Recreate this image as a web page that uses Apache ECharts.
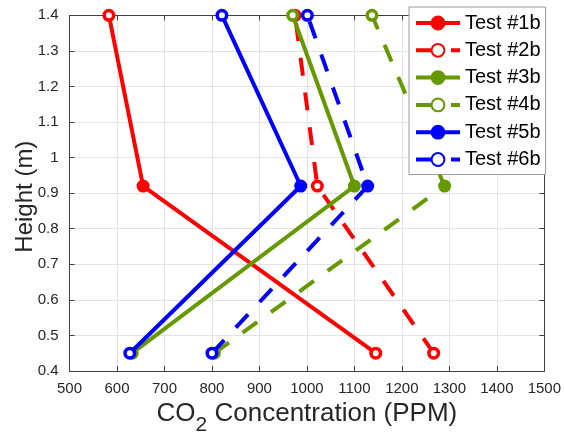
<!DOCTYPE html>
<html>
<head>
<meta charset="utf-8">
<script src="https://cdn.jsdelivr.net/npm/echarts@6/dist/echarts.min.js"></script>
<style>
  html, body { margin: 0; padding: 0; background: #fff; }
  #chart { width: 564px; height: 441px; }
</style>
</head>
<body>
<div id="chart"></div>
<script>
// Measurement heights (m)
const heights = [0.45, 0.92, 1.4];

// CO2 concentration (PPM) at each height, per test
const test1b = [1145, 655, 583];
const test2b = [1267, 1022, 975];
const test3b = [632, 1100, 970];
const test4b = [805, 1290, 1137];
const test5b = [627, 987, 821];
const test6b = [800, 1128, 1001];

const seriesNames = ['Test #1b', 'Test #2b', 'Test #3b', 'Test #4b', 'Test #5b', 'Test #6b'];
const seriesValues = [test1b, test2b, test3b, test4b, test5b, test6b];

// Axis ticks
const xTicks = [500, 600, 700, 800, 900, 1000, 1100, 1200, 1300, 1400, 1500];
const yTicks = [0.4, 0.5, 0.6, 0.7, 0.8, 0.9, 1, 1.1, 1.2, 1.3, 1.4];

const RED = '#ff0000', GREEN = '#669900', BLUE = '#0000ff';
const colors = [RED, RED, GREEN, GREEN, BLUE, BLUE];
const dashed = [false, true, false, true, false, true];
// middle marker filled except for test #2b
const midFilled = [true, false, true, true, true, true];

const AXIS_COLOR = '#404040';
const TEXT_COLOR = '#262626';
const FONT = 'Liberation Sans, Arial, sans-serif';

const series = seriesValues.map((vals, i) => {
  const c = colors[i];
  const data = vals.map((x, k) => {
    const filled = (k === 1) && midFilled[i];
    return {
      value: [x, heights[k]],
      itemStyle: { color: filled ? c : '#ffffff', borderColor: c, borderWidth: 3.5 }
    };
  });
  return {
    name: seriesNames[i],
    type: 'line',
    data: data,
    symbol: 'circle',
    symbolSize: 9.5,
    showAllSymbol: true,
    clip: false,
    lineStyle: { color: c, width: 4, type: dashed[i] ? [18, 17] : 'solid', cap: 'butt' },
    itemStyle: { color: dashed[i] ? '#ffffff' : c, borderColor: c, borderWidth: 3 },
    emphasis: { disabled: true },
    z: 2 + i * 0.01
  };
});

const chart = echarts.init(document.getElementById('chart'), null, { renderer: 'canvas' });

chart.setOption({
  backgroundColor: '#ffffff',
  animation: false,
  textStyle: { fontFamily: FONT },
  grid: { left: 69.5, right: 14.7, top: 15.3, bottom: 66.7, containLabel: false },
  legend: {
    orient: 'vertical',
    left: 409,
    top: 7,
    data: seriesNames,
    itemWidth: 44,
    itemHeight: 16,
    itemGap: 7.3,
    padding: [6, 5, 5, 5],
    backgroundColor: '#ffffff',
    borderColor: '#9a9a9a',
    borderWidth: 1,
    borderRadius: 0,
    selectedMode: false,
    lineStyle: { width: 4 },
    textStyle: { fontFamily: FONT, fontSize: 20, color: '#000000', lineHeight: 20 }
  },
  xAxis: [
    {
      type: 'value',
      position: 'bottom',
      min: xTicks[0],
      max: xTicks[xTicks.length - 1],
      interval: xTicks[1] - xTicks[0],
      name: '{n|CO}{s|2}{n| Concentration (PPM)}',
      nameLocation: 'middle',
      nameGap: 30,
      nameMoveOverlap: false,
      nameTextStyle: {
        rich: {
          n: { fontFamily: FONT, fontSize: 26, color: TEXT_COLOR, verticalAlign: 'top', lineHeight: 29 },
          s: { fontFamily: FONT, fontSize: 21, color: TEXT_COLOR, verticalAlign: 'top', lineHeight: 29, padding: [14, 0, 0, 0] }
        }
      },
      axisLine: { show: true, onZero: false, lineStyle: { color: AXIS_COLOR, width: 1 } },
      axisTick: { show: true, inside: true, length: 5, lineStyle: { color: AXIS_COLOR } },
      axisLabel: { fontFamily: FONT, fontSize: 15, color: TEXT_COLOR, margin: 10, formatter: (v) => String(v) },
      splitLine: { show: true, lineStyle: { color: '#e3e3e3', width: 1 } }
    },
    {
      type: 'value',
      position: 'top',
      min: xTicks[0],
      max: xTicks[xTicks.length - 1],
      interval: xTicks[1] - xTicks[0],
      axisLine: { show: true, onZero: false, lineStyle: { color: AXIS_COLOR, width: 1 } },
      axisTick: { show: true, inside: true, length: 5, lineStyle: { color: AXIS_COLOR } },
      axisLabel: { show: false },
      splitLine: { show: false }
    }
  ],
  yAxis: [
    {
      type: 'value',
      position: 'left',
      min: yTicks[0],
      max: yTicks[yTicks.length - 1],
      interval: 0.1,
      name: 'Height (m)',
      nameLocation: 'middle',
      nameGap: 32,
      nameMoveOverlap: false,
      nameTextStyle: { fontFamily: FONT, fontSize: 24, color: TEXT_COLOR, padding: [0, 7, 0, 0] },
      axisLine: { show: true, onZero: false, lineStyle: { color: AXIS_COLOR, width: 1 } },
      axisTick: { show: true, inside: true, length: 5, lineStyle: { color: AXIS_COLOR } },
      axisLabel: {
        fontFamily: FONT, fontSize: 15, color: TEXT_COLOR, margin: 11,
        formatter: (v) => String(Math.round(v * 10) / 10)
      },
      splitLine: { show: true, lineStyle: { color: '#e3e3e3', width: 1 } }
    },
    {
      type: 'value',
      position: 'right',
      min: yTicks[0],
      max: yTicks[yTicks.length - 1],
      interval: 0.1,
      axisLine: { show: true, onZero: false, lineStyle: { color: AXIS_COLOR, width: 1 } },
      axisTick: { show: true, inside: true, length: 5, lineStyle: { color: AXIS_COLOR } },
      axisLabel: { show: false },
      splitLine: { show: false }
    }
  ],
  series: series
});
</script>
</body>
</html>
